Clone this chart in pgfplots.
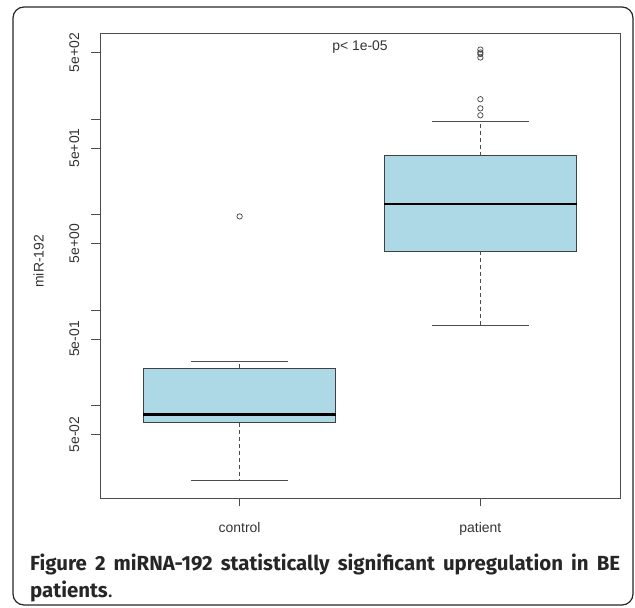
\documentclass[border=0pt]{standalone}
\usepackage{pgfplots}
\pgfplotsset{compat=1.18}
\usepackage{fontspec}
\setmainfont{Liberation Sans}
\newfontfamily\capfont{Fira Sans}
\definecolor{lightblue}{HTML}{ADD8E6}
\pgfplotsset{
  bxbox/.style={draw=black!75, line width=0.9bp, fill=lightblue, mark=none},
  bxmed/.style={black, line width=2.6bp, mark=none},
  bxwhisk/.style={black!70, line width=0.9bp, dash pattern=on 4bp off 3bp, mark=none},
  bxcap/.style={black!70, line width=0.9bp, mark=none},
  bxout/.style={only marks, mark=o, mark size=2.7bp, mark options={black!75, line width=0.7bp}},
}
\begin{document}
\begin{tikzpicture}
\useasboundingbox (0bp,0bp) rectangle (635bp,608bp);
\draw[line width=1.2bp, black!85, rounded corners=11bp] (13bp,3bp) rectangle (633bp,601bp);
\begin{axis}[
  at={(100bp,110bp)}, anchor=south west,
  scale only axis, width=520bp, height=465bp,
  ymode=log, ymin=0.01081, ymax=800,
  xmin=0.42, xmax=2.58,
  xtick={1,2}, xticklabels={control,patient},
  ytick={0.05,0.1,0.5,1,5,10,50,100,500},
  yticklabels={5e-02,,5e-01,,5e+00,,5e+01,,5e+02},
  yminorticks=false,
  tick pos=left, tick align=outside, major tick length=8.5bp,
  axis line style={black!70, line width=0.9bp},
  tick style={draw=black!70, line width=0.9bp},
  every tick label/.append style={font=\fontsize{14}{16}\selectfont, text=black!80},
  yticklabel style={rotate=90, anchor=south, inner xsep=0pt, inner ysep=12bp},
  xticklabel style={anchor=north, inner xsep=0pt, inner ysep=16bp},
  ylabel={miR-192},
  ylabel style={at={(axis description cs:-0.118,0.509)}, anchor=center, font=\fontsize{14}{16}\selectfont, text=black!80},
  clip=false,
]
% control
\addplot[bxbox] coordinates {(0.6,0.0665) (1.4,0.0665) (1.4,0.247) (0.6,0.247)} -- cycle;
\addplot[bxmed] coordinates {(0.6,0.0813) (1.4,0.0813)};
\addplot[bxwhisk] coordinates {(1,0.247) (1,0.289)};
\addplot[bxwhisk] coordinates {(1,0.0665) (1,0.0167)};
\addplot[bxcap] coordinates {(0.8,0.289) (1.2,0.289)};
\addplot[bxcap] coordinates {(0.8,0.0167) (1.2,0.0167)};
\addplot[bxout] coordinates {(1,9.6)};
% patient
\addplot[bxbox] coordinates {(1.6,4.17) (2.4,4.17) (2.4,41.5) (1.6,41.5)} -- cycle;
\addplot[bxmed] coordinates {(1.6,12.9) (2.4,12.9)};
\addplot[bxwhisk] coordinates {(2,41.5) (2,95.9)};
\addplot[bxwhisk] coordinates {(2,4.17) (2,0.689)};
\addplot[bxcap] coordinates {(1.8,95.9) (2.2,95.9)};
\addplot[bxcap] coordinates {(1.8,0.689) (2.2,0.689)};
\addplot[bxout] coordinates {(2,110) (2,130) (2,162) (2,443) (2,482) (2,500) (2,537)};
\node[font=\fontsize{14}{16}\selectfont, text=black!80] at (axis cs:1.5,570) {p< 1e-05};
\end{axis}
\node[anchor=base west, inner sep=0pt, text=black!85] at (30bp,37.5bp)
  {\parbox[t]{590bp}{\capfont\fontsize{20.5}{27}\selectfont\hyphenpenalty=10000
   \textbf{Figure 2 miRNA-192 statistically significant upregulation in BE patients}.}};
\end{tikzpicture}
\end{document}
